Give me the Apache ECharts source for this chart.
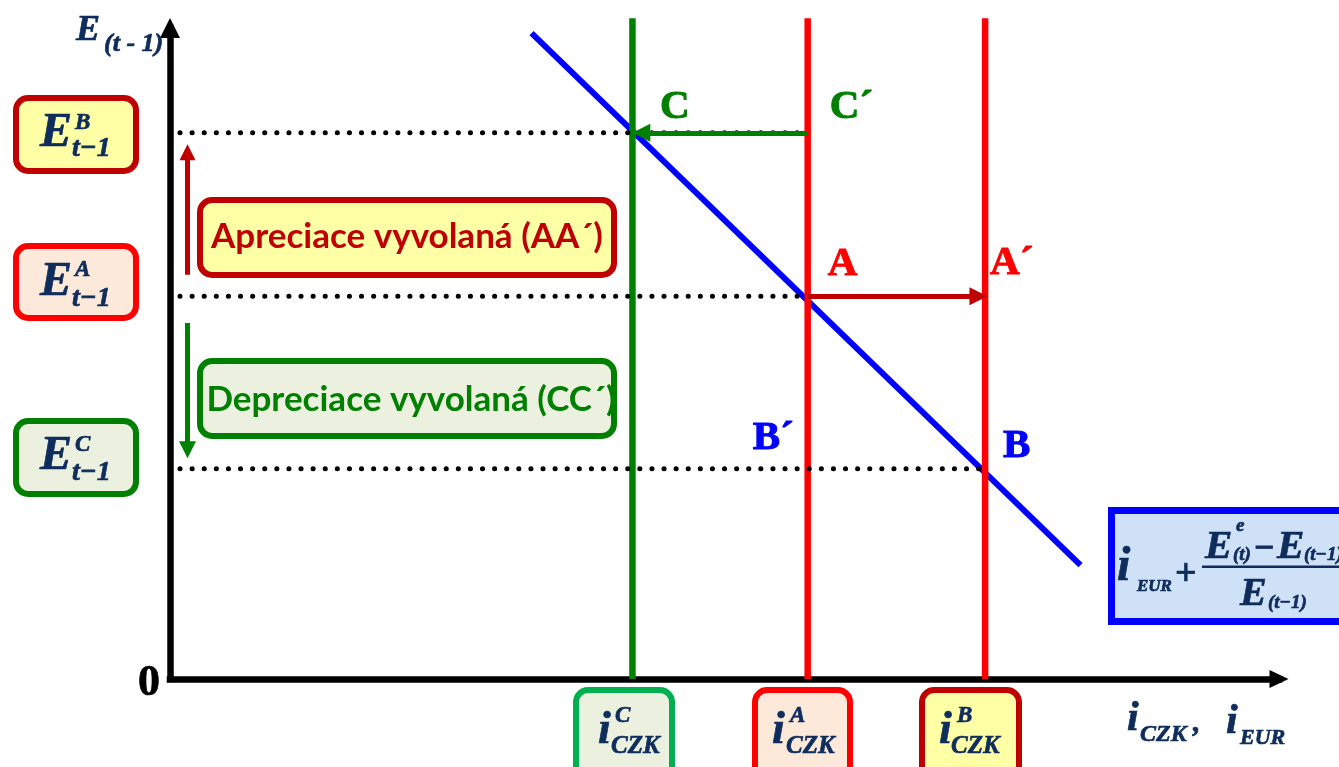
<!DOCTYPE html>
<html>
<head>
<meta charset="utf-8">
<script src="https://cdn.jsdelivr.net/npm/echarts@6/dist/echarts.min.js"></script>
<style>
  html, body { margin: 0; padding: 0; background: #fff; }
  #chart { width: 1339px; height: 767px; }
</style>
</head>
<body>
<div id="chart"></div>
<script>
// interest rates on the x axis (i_CZK levels)
const rateNames = ['C', 'A', 'B'];
const rateValues = [41.7, 57.5, 73.5];
const rateColors = ['#008000', '#ff0000', '#ff0000'];
const rateTop = 101.5;

// exchange rate levels on the y axis (E_{t-1})
const levelNames = ['B', 'A', 'C'];
const levelValues = [83.9, 58.8, 32.3];
const levelEnds = [57.5, 57.5, 73.5];

// expected return on EUR deposits (downward line)
const curveX = [32.6, 82.1];
const curveY = [99.2, 17.5];

// point labels
const pointNames = ['C', 'C´', 'A', 'A´', 'B´', 'B'];
const pointX = [41.7, 57.5, 57.5, 73.5, 57.5, 73.5];
const pointY = [83.9, 83.9, 58.8, 58.8, 32.3, 32.3];

const NAVY = '#0f2d5c';
const SERIF = '"Liberation Serif", "Times New Roman", serif';

const chart = echarts.init(document.getElementById('chart'));

function txt(text, x, y, size, color, opts) {
  opts = opts || {};
  const italic = opts.italic === false ? '' : 'italic ';
  const family = opts.family || SERIF;
  return {
    type: 'text', x: x, y: y, z: 100, silent: true,
    style: {
      text: text,
      font: italic + 'bold ' + size + 'px ' + family,
      fill: color,
      stroke: opts.family ? null : color,
      lineWidth: opts.family ? 0 : 0.7,
      align: opts.align || 'left',
      verticalAlign: 'middle'
    }
  };
}

function box(x, y, w, h, fill, stroke, lw, r) {
  return {
    type: 'rect', z: 90, silent: true,
    shape: { x: x, y: y, width: w, height: h, r: r === undefined ? 12 : r },
    style: { fill: fill, stroke: stroke, lineWidth: lw || 6 }
  };
}

const series = [];

// blue curve
series.push({
  type: 'line', symbol: 'none', silent: true, z: 2,
  data: curveX.map((x, i) => [x, curveY[i]]),
  lineStyle: { color: '#0000ff', width: 6 }
});

// vertical interest rate lines
rateValues.forEach((v, i) => {
  series.push({
    type: 'line', symbol: 'none', silent: true, clip: false, z: 3,
    data: [[v, 0], [v, rateTop]],
    lineStyle: { color: rateColors[i], width: 6.5 }
  });
});

// dotted level lines
levelValues.forEach((v, i) => {
  series.push({
    type: 'line', symbol: 'none', silent: true, z: 4,
    data: [[0.9, v], [levelEnds[i], v]],
    lineStyle: { color: '#000', width: 5, type: [0.1, 12], cap: 'round' }
  });
});

// arrows (symbol centre sits half a head before the tip)
const headX = 0.8, headY = 1.4;
function arrow(from, to, color, size) {
  return {
    type: 'lines', coordinateSystem: 'cartesian2d', silent: true, z: 6,
    symbol: ['none', 'triangle'], symbolSize: size,
    lineStyle: { color: color, width: 5, opacity: 1, curveness: 0 },
    data: [{ coords: [from, to] }]
  };
}
series.push(arrow([rateValues[1], levelValues[0]], [rateValues[0] + headX, levelValues[0]], '#008000', 18));
series.push(arrow([rateValues[1], levelValues[1]], [rateValues[2] - headX + 0.2, levelValues[1]], '#c00000', 18));
series.push(arrow([1.58, 62.1], [1.58, levelValues[0] - 1.6 - headY], '#c00000', 16));
series.push(arrow([1.58, 54.7], [1.58, levelValues[2] + 1.5 + headY], '#008000', 17));

// point labels
const labelOffsets = [[27.5, -25], [22, -25], [20, -32], [5, -33], [-55, -30], [18, -22]];
const labelColors = ['#008000', '#008000', '#ff0000', '#ff0000', '#0000ff', '#0000ff'];
series.push({
  type: 'scatter', symbolSize: 0, silent: true, z: 7,
  itemStyle: { opacity: 1 },
  data: pointNames.map((n, i) => ({
    value: [pointX[i], pointY[i]],
    name: n,
    label: { offset: labelOffsets[i], color: labelColors[i], textBorderColor: labelColors[i] }
  })),
  label: {
    show: true, position: 'inside', align: 'left', verticalAlign: 'middle',
    formatter: p => p.name,
    fontFamily: SERIF, fontWeight: 'bold', fontSize: 41, textBorderWidth: 1
  }
});

const graphic = [
  // left boxes E_{t-1}
  box(16, 98, 120, 73, '#ffffa6', '#c00000'),
  box(16, 246, 120, 72, '#fde9d9', '#ff0000'),
  box(16, 421, 120, 73, '#ebf1de', '#008000'),
  txt('E', 40, 133.4, 48, NAVY), txt(levelNames[0], 75, 123, 23, NAVY), txt('t\u22121', 72, 148.5, 28, NAVY),
  txt('E', 40, 282.4, 48, NAVY), txt(levelNames[1], 75, 270, 23, NAVY), txt('t\u22121', 72, 298.5, 28, NAVY),
  txt('E', 40, 456.4, 48, NAVY), txt(levelNames[2], 75, 445, 23, NAVY), txt('t\u22121', 72, 472.5, 28, NAVY),

  // explanation boxes
  box(200, 200, 414, 75, '#ffffa6', '#c00000'),
  box(200, 361, 414, 75, '#ebf1de', '#008000'),
  txt('Apreciace vyvolaná (AA´)', 407, 237, 35, '#c00000', { italic: false, family: 'Lato, sans-serif', align: 'center' }),
  txt('Depreciace vyvolaná (CC´)', 411, 400, 35, '#008000', { italic: false, family: 'Lato, sans-serif', align: 'center' }),

  // bottom boxes i_CZK
  box(576, 690, 96, 100, '#ebf1de', '#00b050'),
  box(755, 690, 95, 100, '#fde9d9', '#ff0000'),
  box(922, 690, 97, 100, '#ffffa6', '#c00000'),
  txt('i', 598, 731, 46, NAVY), txt(rateNames[0], 615, 716, 23, NAVY), txt('CZK', 611, 746.4, 25, NAVY),
  txt('i', 772, 731, 46, NAVY), txt(rateNames[1], 790, 716, 23, NAVY), txt('CZK', 786, 746.4, 25, NAVY),
  txt('i', 939, 731, 46, NAVY), txt(rateNames[2], 957, 716, 23, NAVY), txt('CZK', 951, 746.4, 25, NAVY),

  // formula box
  box(1111.5, 510.5, 260, 111, '#cfe1f7', '#0000ff', 7, 0),
  txt('i', 1117, 567.4, 48, NAVY), txt('EUR', 1137, 586.8, 17, NAVY),
  txt('+', 1175, 575, 38, NAVY, { italic: false }),
  { type: 'rect', z: 100, silent: true, shape: { x: 1202, y: 565.5, width: 150, height: 2.5 }, style: { fill: NAVY } },
  txt('E', 1205, 547.5, 41, NAVY), txt('e', 1236, 526, 19, NAVY), txt('(t)', 1233, 555, 19, NAVY),
  txt('\u2212', 1254, 550, 36, NAVY, { italic: false }),
  txt('E', 1277, 547.5, 41, NAVY), txt('(t\u22121)', 1304, 555, 19, NAVY),
  txt('E', 1240, 594.8, 40, NAVY), txt('(t\u22121)', 1268, 603, 19, NAVY),

  // axis titles
  txt('E', 76, 31, 36, NAVY), txt('(t - 1)', 104, 44, 26, NAVY),
  txt('0', 138, 683.6, 44, '#000', { italic: false }),
  txt('i', 1127, 719.2, 42, NAVY), txt('CZK', 1140, 734.7, 24, NAVY), txt(',', 1193, 723, 30, NAVY),
  txt('i', 1226, 722.2, 42, NAVY), txt('EUR', 1240, 738.3, 22, NAVY)
];

const option = {
  animation: false,
  backgroundColor: '#fff',
  grid: { left: 170, right: 60, top: 28, bottom: 88 },
  xAxis: {
    type: 'value', min: 0, max: 100,
    axisLabel: { show: false }, axisTick: { show: false }, splitLine: { show: false },
    axisLine: {
      symbol: ['none', 'triangle'], symbolSize: [18, 19],
      lineStyle: { color: '#000', width: 6.5, cap: 'square' }
    }
  },
  yAxis: {
    type: 'value', min: 0, max: 100,
    axisLabel: { show: false }, axisTick: { show: false }, splitLine: { show: false },
    axisLine: {
      symbol: ['none', 'triangle'], symbolSize: [20, 20],
      lineStyle: { color: '#000', width: 6.5, cap: 'square' }
    }
  },
  series: series,
  graphic: graphic
};

chart.setOption(option);

window.addEventListener('resize', () => {
  chart.resize();
});
</script>
</body>
</html>
